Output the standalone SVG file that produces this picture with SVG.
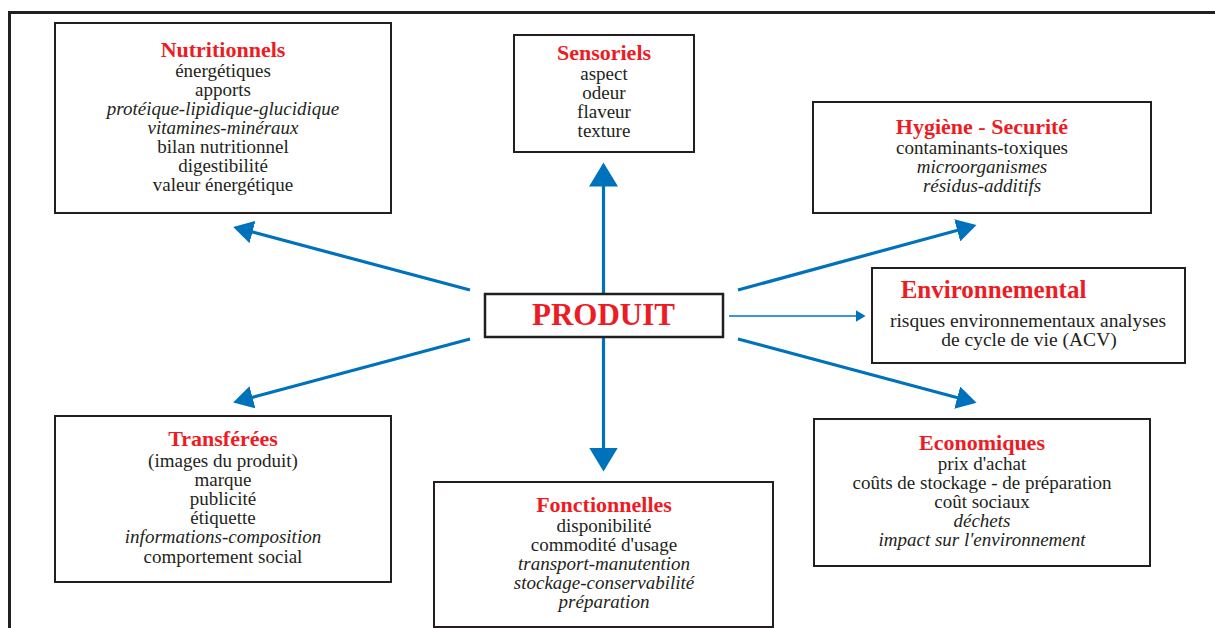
<svg xmlns="http://www.w3.org/2000/svg" width="1215" height="628" viewBox="0 0 1215 628">
<style>
.box{fill:#fff;stroke:#231f20;stroke-width:2}
.t{font-family:"Liberation Serif","Times New Roman",serif;text-anchor:middle;fill:#231f20;font-size:19px}
.h{font-weight:bold;fill:#ed1c24;font-size:22px}
.i{font-style:italic}
.c{stroke:#0072bc;stroke-width:3.2;fill:none}
.thin{stroke:#0072bc;stroke-width:1.5;fill:none}
</style>
<defs>
<marker id="ah" markerUnits="userSpaceOnUse" markerWidth="21" markerHeight="23" refX="0.5" refY="11.5" orient="auto" viewBox="0 0 21 23"><path d="M0,0 L20,11.5 L0,23 Z" fill="#0072bc"/></marker>
<marker id="ahb" markerUnits="userSpaceOnUse" markerWidth="25" markerHeight="29" refX="0.5" refY="14.5" orient="auto" viewBox="0 0 25 29"><path d="M0,0 L24,14.5 L0,29 Z" fill="#0072bc"/></marker>
<marker id="ahs" markerUnits="userSpaceOnUse" markerWidth="11" markerHeight="12" refX="0.5" refY="6" orient="auto" viewBox="0 0 11 12"><path d="M0,0 L10,6 L0,12 Z" fill="#0072bc"/></marker>
</defs>
<path id="frame" d="M9.5,628 V12.5 H1215" fill="none" stroke="#231f20" stroke-width="3"/>
<g id="connectors">
<line class="c" x1="603.5" y1="294" x2="603.5" y2="186" marker-end="url(#ahb)"/>
<line class="c" x1="603.5" y1="337" x2="603.5" y2="448" marker-end="url(#ahb)"/>
<line class="c" x1="470" y1="290" x2="252" y2="231.9" marker-end="url(#ah)"/>
<line class="c" x1="470" y1="339" x2="252" y2="397.5" marker-end="url(#ah)"/>
<line class="c" x1="738" y1="290" x2="957.7" y2="230.2" marker-end="url(#ah)"/>
<line class="c" x1="738" y1="339" x2="957.7" y2="397.8" marker-end="url(#ah)"/>
<line class="thin" x1="729" y1="316" x2="856" y2="316" marker-end="url(#ahs)"/>
</g>
<g id="produit">
<rect class="box" x="485" y="294" width="238" height="43" style="stroke-width:2.5"/>
<text class="t h" x="603.5" y="325" style="font-size:31px">PRODUIT</text>
</g>
<g id="nutritionnels">
<rect class="box" x="55" y="23" width="336" height="190"/>
<text class="t h" x="223" y="57">Nutritionnels</text>
<text class="t" x="223" y="77">énergétiques</text>
<text class="t" x="223" y="96">apports</text>
<text class="t i" x="223" y="115">protéique-lipidique-glucidique</text>
<text class="t i" x="223" y="134">vitamines-minéraux</text>
<text class="t" x="223" y="153">bilan nutritionnel</text>
<text class="t" x="223" y="172">digestibilité</text>
<text class="t" x="223" y="191">valeur énergétique</text>
</g>
<g id="sensoriels">
<rect class="box" x="514" y="35" width="180" height="117"/>
<text class="t h" x="604" y="60">Sensoriels</text>
<text class="t" x="604" y="80">aspect</text>
<text class="t" x="604" y="99">odeur</text>
<text class="t" x="604" y="118">flaveur</text>
<text class="t" x="604" y="137">texture</text>
</g>
<g id="hygiene">
<rect class="box" x="813" y="102" width="338" height="111"/>
<text class="t h" x="982" y="134">Hygiène - Securité</text>
<text class="t" x="982" y="154">contaminants-toxiques</text>
<text class="t i" x="982" y="173">microorganismes</text>
<text class="t i" x="982" y="192">résidus-additifs</text>
</g>
<g id="environnemental">
<rect class="box" x="872" y="268" width="313" height="95"/>
<text class="t h" x="993.5" y="298" style="font-size:25px">Environnemental</text>
<text class="t" x="1028" y="326.5" style="font-size:19.5px">risques environnementaux analyses</text>
<text class="t" x="1029" y="346" style="font-size:19.5px">de cycle de vie (ACV)</text>
</g>
<g id="transferees">
<rect class="box" x="55" y="416" width="336" height="166"/>
<text class="t h" x="223" y="445.5">Transférées</text>
<text class="t" x="223" y="467">(images du produit)</text>
<text class="t" x="223" y="486">marque</text>
<text class="t" x="223" y="505">publicité</text>
<text class="t" x="223" y="524">étiquette</text>
<text class="t i" x="223" y="543">informations-composition</text>
<text class="t" x="223" y="562.5">comportement social</text>
</g>
<g id="fonctionnelles">
<rect class="box" x="434" y="482" width="339" height="145"/>
<text class="t h" x="604" y="512">Fonctionnelles</text>
<text class="t" x="604" y="532">disponibilité</text>
<text class="t" x="604" y="551">commodité d'usage</text>
<text class="t i" x="604" y="570">transport-manutention</text>
<text class="t i" x="604" y="589">stockage-conservabilité</text>
<text class="t i" x="604" y="608">préparation</text>
</g>
<g id="economiques">
<rect class="box" x="814" y="419" width="336" height="147"/>
<text class="t h" x="982" y="450">Economiques</text>
<text class="t" x="982" y="470">prix d'achat</text>
<text class="t" x="982" y="489">coûts de stockage - de préparation</text>
<text class="t" x="982" y="508">coût sociaux</text>
<text class="t i" x="982" y="527">déchets</text>
<text class="t i" x="982" y="546">impact sur l'environnement</text>
</g>
</svg>
